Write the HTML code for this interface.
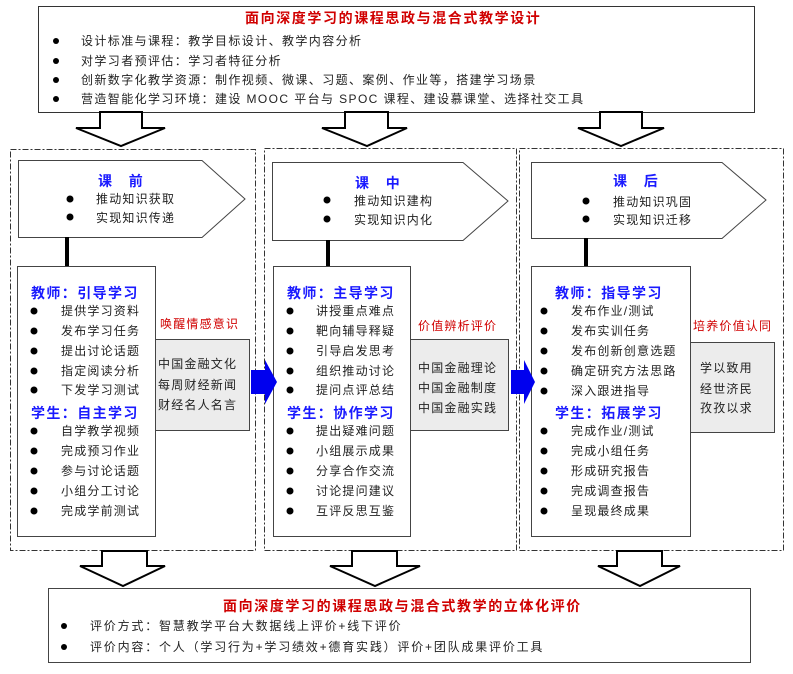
<!DOCTYPE html>
<html><head><meta charset="utf-8"><style>
html,body{margin:0;padding:0;background:#fff;}
svg text{font-family:"Liberation Sans","Noto Sans CJK SC",sans-serif;font-size:12px;fill:#222;letter-spacing:1.2px;}
.h{font-size:14px;font-weight:bold;fill:#1a1aff;letter-spacing:1.4px;}
.r{font-size:14px;font-weight:bold;fill:#d00000;letter-spacing:1.6px;}
.rl{font-size:12px;fill:#d00000;}
.t{letter-spacing:1.4px;}
.b{letter-spacing:1.8px;}
</style></head><body>
<svg width="793" height="669" viewBox="0 0 793 669" xmlns="http://www.w3.org/2000/svg">
<g fill="none" stroke="#333" stroke-width="1" stroke-dasharray="6,2,2,2">
<rect x="10.5" y="149.5" width="245" height="401"/>
<rect x="264.5" y="148.5" width="252" height="402"/>
<rect x="519.5" y="148.5" width="264" height="402"/>
</g>
<rect x="38.5" y="6.5" width="716" height="106" fill="#fff" stroke="#333"/>
<text x="245" y="23" class="r">面向深度学习的课程思政与混合式教学设计</text>
<g><circle cx="56" cy="41" r="3" fill="#000"/><circle cx="56" cy="61" r="3" fill="#000"/><circle cx="56" cy="80" r="3" fill="#000"/><circle cx="56" cy="99" r="3" fill="#000"/></g>
<text x="81" y="45" class="t">设计标准与课程：教学目标设计、教学内容分析</text>
<text x="81" y="65" class="t">对学习者预评估：学习者特征分析</text>
<text x="81" y="84" class="t">创新数字化教学资源：制作视频、微课、习题、案例、作业等，搭建学习场景</text>
<text x="81" y="103" class="t">营造智能化学习环境：建设 MOOC 平台与 SPOC 课程、建设慕课堂、选择社交工具</text>
<g fill="#fff" stroke="#000" stroke-width="2">
<polygon points="100,112 142,112 142,128 165,128 121,146 76,128 100,128"/>
<polygon points="345,112 388,112 388,128 407,128 367,146 322,128 345,128"/>
<polygon points="600,112 642,112 642,128 664,128 621,146 578,128 600,128"/>
<polygon points="102,551 147,551 147,566 165,566 123,586 80,566 102,566"/>
<polygon points="352,551 397,551 397,566 420,566 375,586 330,566 352,566"/>
<polygon points="617,551 662,551 662,566 680,566 640,586 598,566 617,566"/>
</g>
<g fill="#fff" stroke="#444">
<polygon points="18.5,160.5 202,160.5 245,199 202,237.5 18.5,237.5"/>
<polygon points="272.5,162.5 463,162.5 508,201 463,240.5 272.5,240.5"/>
<polygon points="531.5,162.5 722,162.5 766,200 722,238.5 531.5,238.5"/>
</g>
<g stroke="#000" stroke-width="4"><line x1="67" y1="237" x2="67" y2="266"/><line x1="328" y1="240" x2="328" y2="266"/><line x1="586" y1="238" x2="586" y2="266"/></g>
<text x="98" y="186" class="h">课　前</text>
<text x="355" y="188" class="h">课　中</text>
<text x="613" y="186" class="h">课　后</text>
<g fill="#000"><circle cx="70" cy="199" r="3.5"/><circle cx="70" cy="217" r="3.5"/><circle cx="327" cy="200" r="3.5"/><circle cx="327" cy="219" r="3.5"/><circle cx="586" cy="201" r="3.5"/><circle cx="586" cy="219" r="3.5"/></g>
<text x="96" y="203">推动知识获取</text><text x="96" y="222">实现知识传递</text>
<text x="354" y="205">推动知识建构</text><text x="354" y="224">实现知识内化</text>
<text x="613" y="206">推动知识巩固</text><text x="613" y="224">实现知识迁移</text>
<g fill="#ececec" stroke="#444">
<rect x="155.5" y="339.5" width="94" height="91"/>
<rect x="410.5" y="339.5" width="98" height="91"/>
<rect x="690.5" y="342.5" width="84" height="90"/>
</g>
<g fill="#fff" stroke="#444">
<rect x="17.5" y="266.5" width="138" height="270"/>
<rect x="273.5" y="266.5" width="137" height="270"/>
<rect x="531.5" y="266.5" width="159" height="270"/>
</g>
<g fill="#0000ee">
<polygon points="251,370 265,370 265,360 277,382 265,404 265,394 251,394"/>
<polygon points="511,370 524,370 524,360 535,382 524,404 524,394 511,394"/>
</g>
<text x="160" y="328" class="rl">唤醒情感意识</text>
<text x="418" y="330" class="rl">价值辨析评价</text>
<text x="693" y="330" class="rl">培养价值认同</text>
<text x="158" y="368">中国金融文化</text><text x="158" y="389">每周财经新闻</text><text x="158" y="409">财经名人名言</text>
<text x="418" y="372">中国金融理论</text><text x="418" y="392">中国金融制度</text><text x="418" y="412">中国金融实践</text>
<text x="700" y="372">学以致用</text><text x="700" y="393">经世济民</text><text x="700" y="412">孜孜以求</text>
<text x="31" y="298" class="h">教师：引导学习</text>
<text x="31" y="418" class="h">学生：自主学习</text>
<text x="287" y="298" class="h">教师：主导学习</text>
<text x="287" y="418" class="h">学生：协作学习</text>
<text x="555" y="298" class="h">教师：指导学习</text>
<text x="555" y="418" class="h">学生：拓展学习</text>
<g fill="#000">
<circle cx="34" cy="311" r="3.5"/><circle cx="34" cy="331" r="3.5"/><circle cx="34" cy="351" r="3.5"/><circle cx="34" cy="371" r="3.5"/><circle cx="34" cy="390" r="3.5"/>
<circle cx="34" cy="431" r="3.5"/><circle cx="34" cy="451" r="3.5"/><circle cx="34" cy="471" r="3.5"/><circle cx="34" cy="491" r="3.5"/><circle cx="34" cy="511" r="3.5"/>
<circle cx="290" cy="311" r="3.5"/><circle cx="290" cy="331" r="3.5"/><circle cx="290" cy="351" r="3.5"/><circle cx="290" cy="371" r="3.5"/><circle cx="290" cy="390" r="3.5"/>
<circle cx="290" cy="431" r="3.5"/><circle cx="290" cy="451" r="3.5"/><circle cx="290" cy="471" r="3.5"/><circle cx="290" cy="491" r="3.5"/><circle cx="290" cy="511" r="3.5"/>
<circle cx="544" cy="311" r="3.5"/><circle cx="544" cy="331" r="3.5"/><circle cx="544" cy="351" r="3.5"/><circle cx="544" cy="371" r="3.5"/><circle cx="544" cy="391" r="3.5"/>
<circle cx="544" cy="431" r="3.5"/><circle cx="544" cy="451" r="3.5"/><circle cx="544" cy="471" r="3.5"/><circle cx="544" cy="491" r="3.5"/><circle cx="544" cy="511" r="3.5"/>
</g>
<g>
<text x="61" y="315">提供学习资料</text><text x="61" y="335">发布学习任务</text><text x="61" y="355">提出讨论话题</text><text x="61" y="375">指定阅读分析</text><text x="61" y="394">下发学习测试</text>
<text x="61" y="435">自学教学视频</text><text x="61" y="455">完成预习作业</text><text x="61" y="475">参与讨论话题</text><text x="61" y="495">小组分工讨论</text><text x="61" y="515">完成学前测试</text>
<text x="316" y="315">讲授重点难点</text><text x="316" y="335">靶向辅导释疑</text><text x="316" y="355">引导启发思考</text><text x="316" y="375">组织推动讨论</text><text x="316" y="394">提问点评总结</text>
<text x="316" y="435">提出疑难问题</text><text x="316" y="455">小组展示成果</text><text x="316" y="475">分享合作交流</text><text x="316" y="495">讨论提问建议</text><text x="316" y="515">互评反思互鉴</text>
<text x="571" y="315">发布作业/测试</text><text x="571" y="335">发布实训任务</text><text x="571" y="355">发布创新创意选题</text><text x="571" y="375">确定研究方法思路</text><text x="571" y="395">深入跟进指导</text>
<text x="571" y="435">完成作业/测试</text><text x="571" y="455">完成小组任务</text><text x="571" y="475">形成研究报告</text><text x="571" y="495">完成调查报告</text><text x="571" y="515">呈现最终成果</text>
</g>
<rect x="48.5" y="588.5" width="702" height="74" fill="#fff" stroke="#444"/>
<text x="223" y="611" class="r">面向深度学习的课程思政与混合式教学的立体化评价</text>
<circle cx="64" cy="626" r="3" fill="#000"/><circle cx="64" cy="647" r="3" fill="#000"/>
<text x="90" y="630" class="b">评价方式：智慧教学平台大数据线上评价+线下评价</text>
<text x="90" y="651" class="b">评价内容：个人（学习行为+学习绩效+德育实践）评价+团队成果评价工具</text>
</svg>
</body></html>
